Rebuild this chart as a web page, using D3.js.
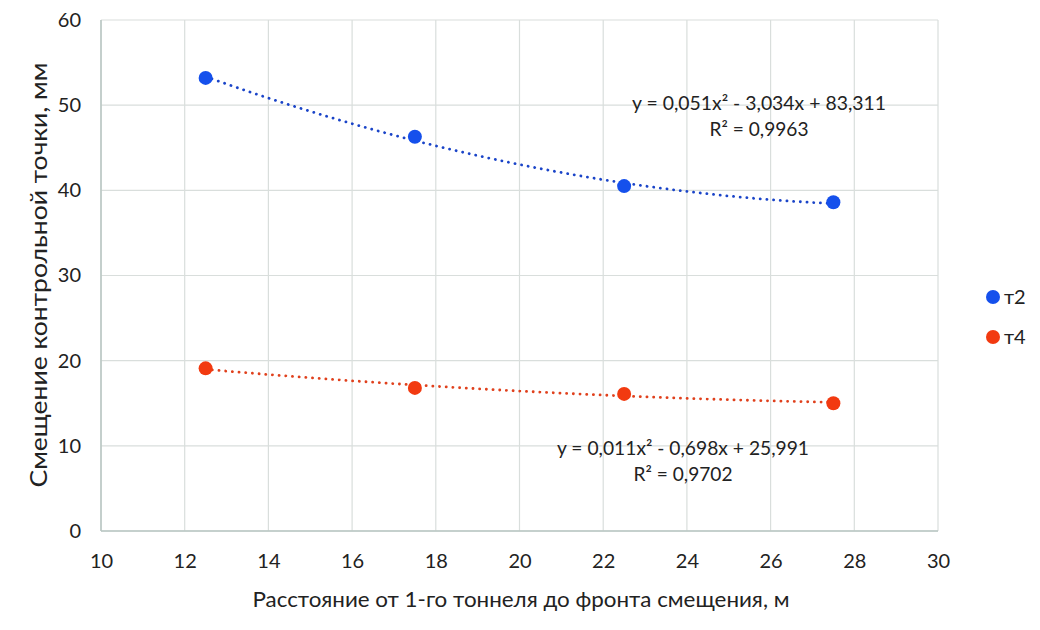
<!DOCTYPE html>
<html>
<head>
<meta charset="utf-8">
<script src="https://cdn.jsdelivr.net/npm/d3@7"></script>
<style>
  body { margin: 0; background: #fff; }
  text { font-family: Lato, "Open Sans", sans-serif; fill: #222; }
</style>
</head>
<body>
<div id="chart"></div>
<script>
(function() {
  var width = 1040,
     height = 630;

  // data
  var distances = [12.5, 17.5, 22.5, 27.5];
  var t2 = [53.2, 46.3, 40.5, 38.6];
  var t4 = [19.1, 16.8, 16.1, 15.0];
  var seriesNames = ["т2", "т4"];
  var seriesColors = ["#1550ec", "#f23a10"];
  var trendColors = ["#1a44c8", "#e0401c"];
  // trendline coefficients as printed on the chart: a*x^2 + b*x + c
  var t2Coef = [0.051, -3.034, 83.311];
  var t4Coef = [0.011, -0.698, 25.991];
  var trendLabels = [
    ["y = 0,051x² - 3,034x + 83,311", "R² = 0,9963"],
    ["y = 0,011x² - 0,698x + 25,991", "R² = 0,9702"]
  ];
  var xTicks = [10, 12, 14, 16, 18, 20, 22, 24, 26, 28, 30];
  var yTicks = [0, 10, 20, 30, 40, 50, 60];

  var margin = {left: 101, right: 102, top: 20, bottom: 99};

  var svg = d3.select("#chart")
  .append("svg")
  .attr("width", width)
  .attr("height", height);

  var x = d3.scaleLinear().domain([10, 30]).range([margin.left, width - margin.right]);
  var y = d3.scaleLinear().domain([0, 60]).range([height - margin.bottom, margin.top]);

  // gridlines
  svg.append("g")
  .selectAll("line")
  .data(xTicks)
  .enter()
  .append("line")
  .attr("x1", function(d) { return x(d); })
  .attr("x2", function(d) { return x(d); })
  .attr("y1", y(0))
  .attr("y2", y(60))
  .attr("stroke", "#d9dedc")
  .attr("stroke-width", 1.2);

  svg.append("g")
  .selectAll("line")
  .data(yTicks)
  .enter()
  .append("line")
  .attr("x1", x(10))
  .attr("x2", x(30))
  .attr("y1", function(d) { return y(d); })
  .attr("y2", function(d) { return y(d); })
  .attr("stroke", "#d9dedc")
  .attr("stroke-width", 1.2);

  // axis lines
  svg.append("line")
  .attr("x1", x(10)).attr("x2", x(10))
  .attr("y1", y(0)).attr("y2", y(60))
  .attr("stroke", "#b9c6c2").attr("stroke-width", 1.5);
  svg.append("line")
  .attr("x1", x(10)).attr("x2", x(30))
  .attr("y1", y(0)).attr("y2", y(0))
  .attr("stroke", "#b9c6c2").attr("stroke-width", 1.5);

  // tick labels
  var xAxis = svg.append("g")
  .attr("transform", "translate(0," + (y(0) + 37) + ")")
  .call(d3.axisBottom(x).tickValues(xTicks).tickSize(0).tickFormat(d3.format("d")));
  xAxis.select(".domain").remove();
  xAxis.selectAll("text").attr("font-size", 20).attr("dy", 0).attr("y", 0);

  var yAxis = svg.append("g")
  .attr("transform", "translate(" + (x(10) - 20) + ",0)")
  .call(d3.axisLeft(y).tickValues(yTicks).tickSize(0).tickFormat(d3.format("d")));
  yAxis.select(".domain").remove();
  yAxis.selectAll("text").attr("font-size", 20).attr("x", 0);

  svg.selectAll(".tick text").style("font-family", "Lato, 'Open Sans', sans-serif").attr("fill", "#222");

  // axis titles
  svg.append("text")
  .attr("x", 521)
  .attr("y", 607)
  .attr("text-anchor", "middle")
  .attr("font-size", 21)
  .attr("textLength", 537)
  .attr("lengthAdjust", "spacingAndGlyphs")
  .text("Расстояние от 1-го тоннеля до фронта смещения, м");

  svg.append("text")
  .attr("transform", "translate(47,275) rotate(-90)")
  .attr("text-anchor", "middle")
  .attr("font-size", 23)
  .attr("textLength", 425)
  .attr("lengthAdjust", "spacingAndGlyphs")
  .text("Смещение контрольной точки, мм");

  // trendlines
  var series = [t2, t4];
  var coefs = [t2Coef, t4Coef];
  var line = d3.line()
  .x(function(d) { return x(d[0]); })
  .y(function(d) { return y(d[1]); })
  .curve(d3.curveBasis);

  coefs.forEach(function(c, i) {
    var pts = d3.range(distances[0], distances[3] + 0.01, 0.25).map(function(v) {
      return [v, c[0] * v * v + c[1] * v + c[2]];
    });
    svg.append("path")
    .datum(pts)
    .attr("d", line)
    .attr("fill", "none")
    .attr("stroke", trendColors[i])
    .attr("stroke-width", 2.8)
    .attr("stroke-linecap", "round")
    .attr("stroke-dasharray", "0.1,6.6");
  });

  // points
  series.forEach(function(s, i) {
    svg.append("g")
    .selectAll("circle")
    .data(s)
    .enter()
    .append("circle")
    .attr("cx", function(d, j) { return x(distances[j]); })
    .attr("cy", function(d) { return y(d); })
    .attr("r", 7)
    .attr("fill", seriesColors[i]);
  });

  // trend equations
  var labelPos = [[759, 110], [683, 455]];
  var labelLen = [[254, 99], [252, 99]];
  trendLabels.forEach(function(lines, i) {
    svg.append("g")
    .selectAll("text")
    .data(lines)
    .enter()
    .append("text")
    .attr("x", labelPos[i][0])
    .attr("y", function(d, j) { return labelPos[i][1] + j * 26; })
    .attr("text-anchor", "middle")
    .attr("font-size", 19)
    .attr("textLength", function(d, j) { return labelLen[i][j]; })
    .attr("lengthAdjust", "spacingAndGlyphs")
    .text(function(d) { return d; });
  });

  // legend
  var legend = svg.append("g")
  .selectAll("g")
  .data(seriesNames)
  .enter()
  .append("g")
  .attr("transform", function(d, i) { return "translate(993," + (297 + i * 40) + ")"; });

  legend.append("circle")
  .attr("r", 7)
  .attr("fill", function(d, i) { return seriesColors[i]; });

  legend.append("text")
  .attr("x", 11)
  .attr("y", 7)
  .attr("font-size", 20)
  .text(function(d) { return d; });
})();
</script>
</body>
</html>
